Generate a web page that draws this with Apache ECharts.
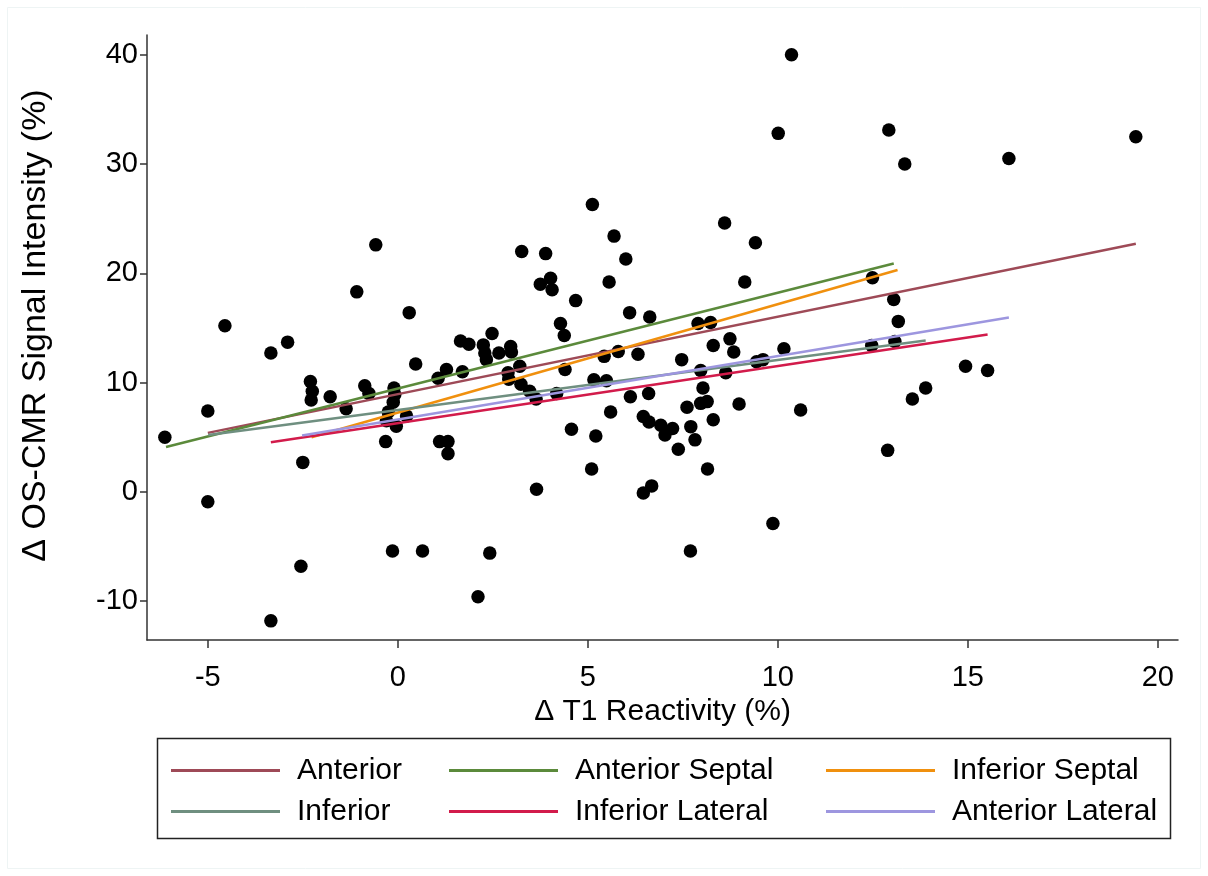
<!DOCTYPE html>
<html>
<head>
<meta charset="utf-8">
<script src="https://cdn.jsdelivr.net/npm/echarts@6/dist/echarts.min.js"></script>
<style>
  html, body { margin: 0; padding: 0; background: #fff; }
  #chart { width: 1208px; height: 876px; }
</style>
</head>
<body>
<div id="chart"></div>
<script>
// Per-segment change in T1 reactivity (%) and OS-CMR signal intensity (%)
const t1Reactivity = [
  -6.13, -5.0, -5.0, -4.55, -3.34, -3.34, -2.9, -2.5, -2.55, -2.3, -2.25, -2.28,
  -1.78, -1.36, -1.08, -0.58, -0.87, -0.76,
  -0.1, -0.08, -0.12, -0.25, -0.3, -0.04, 0.23, -0.32,
  0.47, 0.3, 1.06, 1.28, 1.7, 1.65, 1.87, 2.25, 2.29, 2.33, 2.48, 2.66, 2.97, 2.99,
  3.21, 2.9, 2.92, 3.24, 3.47, 3.64, 4.18, 4.4, 1.1, 1.32, 1.32,
  -0.14, 0.65, 2.11, 2.42,
  3.26, 3.89, 3.75, 4.02, 4.06, 4.68, 4.28, 4.38, 4.57, 5.21, 5.1, 3.65,
  5.12, 5.69, 6.0, 5.56, 6.1, 6.63, 5.43, 5.8, 6.32, 5.16, 5.49, 6.12, 6.6, 5.6,
  6.46, 6.61, 6.92, 7.23, 7.03, 7.71, 7.82, 7.38, 7.61, 7.97, 8.14, 8.3, 8.98, 8.03,
  7.97, 8.63, 7.47, 9.44, 9.61, 8.3, 8.74, 8.84, 7.9, 8.23, 10.16,
  8.6, 9.41, 9.13, 10.36, 10.01, 12.92, 13.34, 16.08, 19.42,
  12.49, 13.05, 13.17, 12.47, 13.08, 14.94, 15.52, 13.89, 13.54, 10.6, 12.89,
  8.15, 6.46, 6.68, 7.7, 9.87
];
const signalChange = [
  5.0, 7.4, -0.9, 15.2, 12.7, -11.8, 13.7, 2.7, -6.8, 10.1, 9.2, 8.4,
  8.7, 7.6, 18.3, 22.6, 9.7, 9.0,
  9.5, 8.9, 8.2, 7.3, 6.5, 6.0, 6.95, 4.6,
  11.7, 16.4, 10.4, 11.2, 11.0, 13.8, 13.5, 13.45, 12.7, 12.1, 14.5, 12.7, 13.3, 12.8,
  11.5, 10.9, 10.3, 9.85, 9.2, 8.5, 9.0, 11.2, 4.6, 4.6, 3.5,
  -5.4, -5.4, -9.6, -5.6,
  22.0, 21.8, 19.0, 19.55, 18.5, 17.5, 15.4, 14.3, 5.74, 5.12, 2.1, 0.25,
  26.3, 23.4, 21.3, 19.2, 16.4, 16.0, 12.4, 12.84, 12.6, 10.25, 10.16, 8.7, 9.0, 7.3,
  6.9, 6.4, 6.1, 5.8, 5.2, 5.97, 4.76, 3.9, 7.75, 8.1, 8.26, 6.6, 8.05, 9.5,
  11.1, 10.9, 12.1, 11.9, 12.1, 13.4, 14.0, 12.8, 15.4, 15.5, 13.1,
  24.6, 22.8, 19.2, 40.0, 32.8, 33.1, 30.0, 30.5, 32.5,
  19.6, 17.6, 15.6, 13.4, 13.75, 11.5, 11.1, 9.5, 8.5, 7.5, 3.8,
  2.1, -0.1, 0.55, -5.4, -2.9
];

// Linear fit per myocardial segment: endpoints over each segment's data range
const regionNames = ['Anterior', 'Anterior Septal', 'Inferior Septal', 'Inferior', 'Inferior Lateral', 'Anterior Lateral'];
const fitStartX = [-5.0, -6.1, -2.27, -4.99, -3.34, -2.52];
const fitEndX   = [19.42, 13.05, 13.15, 13.89, 15.52, 16.08];
const fitStartY = [5.4, 4.1, 5.0, 5.2, 4.55, 5.15];
const fitEndY   = [22.7, 20.9, 20.3, 13.85, 14.4, 15.95];

const xTicks = [-5, 0, 5, 10, 15, 20];
const yTicks = [-10, 0, 10, 20, 30, 40];

const regionColors = ['#9e4a57', '#5b8a3b', '#f0900e', '#6f8f80', '#d21b4b', '#9d96df'];
const FONT = "'Liberation Sans', Arial, sans-serif";

const chart = echarts.init(document.getElementById('chart'), null, { renderer: 'canvas' });

const scatterData = t1Reactivity.map((x, i) => [x, signalChange[i]]);

const lineSeries = regionNames.map((name, i) => ({
  name: name,
  type: 'line',
  data: [[fitStartX[i], fitStartY[i]], [fitEndX[i], fitEndY[i]]],
  symbol: 'none',
  lineStyle: { color: regionColors[i], width: 2.5 },
  itemStyle: { color: regionColors[i] },
  z: 5,
  silent: true,
  animation: false
}));

const legendCommon = {
  orient: 'vertical',
  top: 754,
  padding: 0,
  icon: 'rect',
  itemWidth: 109,
  itemHeight: 3,
  itemGap: 8,
  selectedMode: false,
  textStyle: { fontFamily: FONT, fontSize: 30, color: '#000', padding: [0, 0, 0, 12], lineHeight: 33 }
};

chart.setOption({
  animation: false,
  backgroundColor: '#fff',
  grid: { left: 147, top: 35, width: 1031, height: 605, containLabel: false },
  xAxis: {
    type: 'value',
    min: -6.6,
    max: 20.53,
    name: 'Δ T1 Reactivity (%)',
    nameLocation: 'middle',
    nameGap: 54,
    nameTextStyle: { fontFamily: FONT, fontSize: 30, color: '#000' },
    axisLine: { show: true, onZero: false, lineStyle: { color: '#333', width: 1.5 } },
    axisTick: { show: true, length: 8, lineStyle: { color: '#333', width: 1.5 }, customValues: xTicks },
    axisLabel: { fontFamily: FONT, fontSize: 29, color: '#000', margin: 23, customValues: xTicks },
    splitLine: { show: false }
  },
  yAxis: {
    type: 'value',
    min: -13.55,
    max: 41.8,
    name: 'Δ OS-CMR Signal Intensity (%)',
    nameLocation: 'middle',
    nameGap: 94,
    nameRotate: 90,
    nameTextStyle: { fontFamily: FONT, fontSize: 34, color: '#000', padding: [0, 0, 0, 24] },
    axisLine: { show: true, onZero: false, lineStyle: { color: '#333', width: 1.5 } },
    axisTick: { show: true, length: 7, lineStyle: { color: '#333', width: 1.5 }, customValues: yTicks },
    axisLabel: { fontFamily: FONT, fontSize: 29, color: '#000', margin: 9, customValues: yTicks },
    splitLine: { show: false }
  },
  legend: [
    Object.assign({}, legendCommon, { left: 171, data: ['Anterior', 'Inferior'] }),
    Object.assign({}, legendCommon, { left: 449, data: ['Anterior Septal', 'Inferior Lateral'] }),
    Object.assign({}, legendCommon, { left: 826, data: ['Inferior Septal', 'Anterior Lateral'] })
  ],
  graphic: [
    {
      type: 'rect',
      shape: { x: 7.5, y: 7.5, width: 1193, height: 861 },
      style: { fill: 'none', stroke: '#eef4f4', lineWidth: 1 },
      silent: true
    },
    {
      type: 'rect',
      shape: { x: 157.5, y: 738.5, width: 1013, height: 100 },
      style: { fill: 'none', stroke: '#222', lineWidth: 1.5 },
      silent: true
    }
  ],
  series: [
    {
      name: 'Segments',
      type: 'scatter',
      data: scatterData,
      symbol: 'circle',
      symbolSize: 13.5,
      itemStyle: { color: '#000', opacity: 1 },
      z: 3,
      silent: true
    }
  ].concat(lineSeries)
});
</script>
</body>
</html>
